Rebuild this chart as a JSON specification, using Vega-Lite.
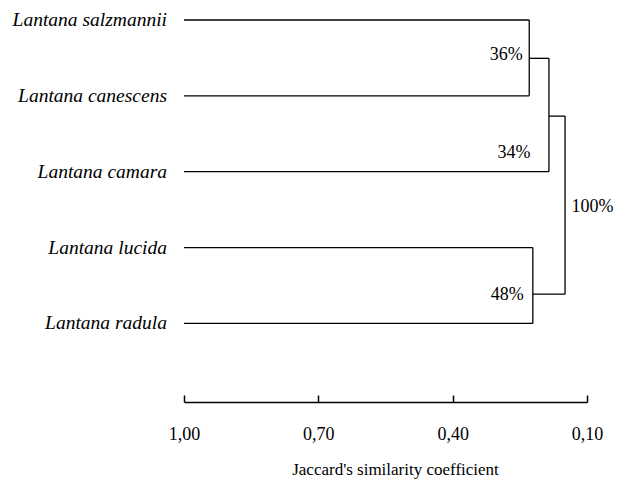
{
  "$schema": "https://vega.github.io/schema/vega-lite/v6.json",
  "width": 403,
  "height": 402,
  "autosize": {"type": "none"},
  "padding": {"left": 184, "top": 0, "right": 31, "bottom": 78},
  "background": "white",
  "config": {"view": {"stroke": null}, "font": "Liberation Serif"},
  "datasets": {
    "segments": [
      {"x1": 1.0, "x2": 0.229, "y1": 0, "y2": 0},
      {"x1": 1.0, "x2": 0.229, "y1": 1, "y2": 1},
      {"x1": 0.229, "x2": 0.229, "y1": 0, "y2": 1},
      {"x1": 0.229, "x2": 0.185, "y1": 0.505, "y2": 0.505},
      {"x1": 1.0, "x2": 0.185, "y1": 2, "y2": 2},
      {"x1": 0.185, "x2": 0.185, "y1": 0.505, "y2": 2},
      {"x1": 0.185, "x2": 0.149, "y1": 1.267, "y2": 1.267},
      {"x1": 1.0, "x2": 0.221, "y1": 3, "y2": 3},
      {"x1": 1.0, "x2": 0.221, "y1": 4, "y2": 4},
      {"x1": 0.221, "x2": 0.221, "y1": 3, "y2": 4},
      {"x1": 0.221, "x2": 0.149, "y1": 3.615, "y2": 3.615},
      {"x1": 0.149, "x2": 0.149, "y1": 1.267, "y2": 3.615}
    ],
    "species": [
      {"name": "Lantana salzmannii", "x": 1.0, "y": 0},
      {"name": "Lantana canescens", "x": 1.0, "y": 1},
      {"name": "Lantana camara", "x": 1.0, "y": 2},
      {"name": "Lantana lucida", "x": 1.0, "y": 3},
      {"name": "Lantana radula", "x": 1.0, "y": 4}
    ],
    "pctRight": [
      {"label": "36%", "x": 0.2435, "y": 0.46},
      {"label": "34%", "x": 0.2263, "y": 1.755},
      {"label": "48%", "x": 0.2412, "y": 3.628}
    ],
    "pctLeft": [
      {"label": "100%", "x": 0.1348, "y": 2.467}
    ]
  },
  "layer": [
    {
      "data": {"name": "segments"},
      "mark": {"type": "rule", "color": "black", "strokeWidth": 1.3},
      "encoding": {
        "x": {
          "field": "x1", "type": "quantitative",
          "scale": {"domain": [0.1, 1.0], "reverse": true, "nice": false, "zero": false},
          "axis": {
            "values": [1.0, 0.7, 0.4, 0.1],
            "labelExpr": "replace(format(datum.value, '.2f'), '.', ',')",
            "grid": false,
            "domainColor": "black",
            "domainWidth": 1.7,
            "tickColor": "black",
            "tickWidth": 1.5,
            "tickSize": -7,
            "labelFlush": false,
            "labelFontSize": 18,
            "labelColor": "black",
            "labelPadding": 30,
            "labelFont": "Liberation Serif",
            "title": "Jaccard's similarity  coefficient",
            "titleFont": "Liberation Serif",
            "titleFontSize": 17,
            "titleFontWeight": "normal",
            "titleColor": "black",
            "titlePadding": 18,
            "titleX": 211
          }
        },
        "x2": {"field": "x2"},
        "y": {
          "field": "y1", "type": "quantitative",
          "scale": {"domain": [-0.264, 5.036], "reverse": true, "nice": false, "zero": false},
          "axis": null
        },
        "y2": {"field": "y2"}
      }
    },
    {
      "data": {"name": "species"},
      "mark": {"type": "text", "align": "right", "baseline": "middle", "dx": -17, "fontSize": 19.5, "fontStyle": "italic", "font": "Liberation Serif", "color": "black"},
      "encoding": {
        "x": {"field": "x", "type": "quantitative"},
        "y": {"field": "y", "type": "quantitative"},
        "text": {"field": "name"}
      }
    },
    {
      "data": {"name": "pctRight"},
      "mark": {"type": "text", "align": "right", "baseline": "middle", "fontSize": 18, "font": "Liberation Serif", "color": "black"},
      "encoding": {
        "x": {"field": "x", "type": "quantitative"},
        "y": {"field": "y", "type": "quantitative"},
        "text": {"field": "label"}
      }
    },
    {
      "data": {"name": "pctLeft"},
      "mark": {"type": "text", "align": "left", "baseline": "middle", "fontSize": 18, "font": "Liberation Serif", "color": "black"},
      "encoding": {
        "x": {"field": "x", "type": "quantitative"},
        "y": {"field": "y", "type": "quantitative"},
        "text": {"field": "label"}
      }
    }
  ]
}
